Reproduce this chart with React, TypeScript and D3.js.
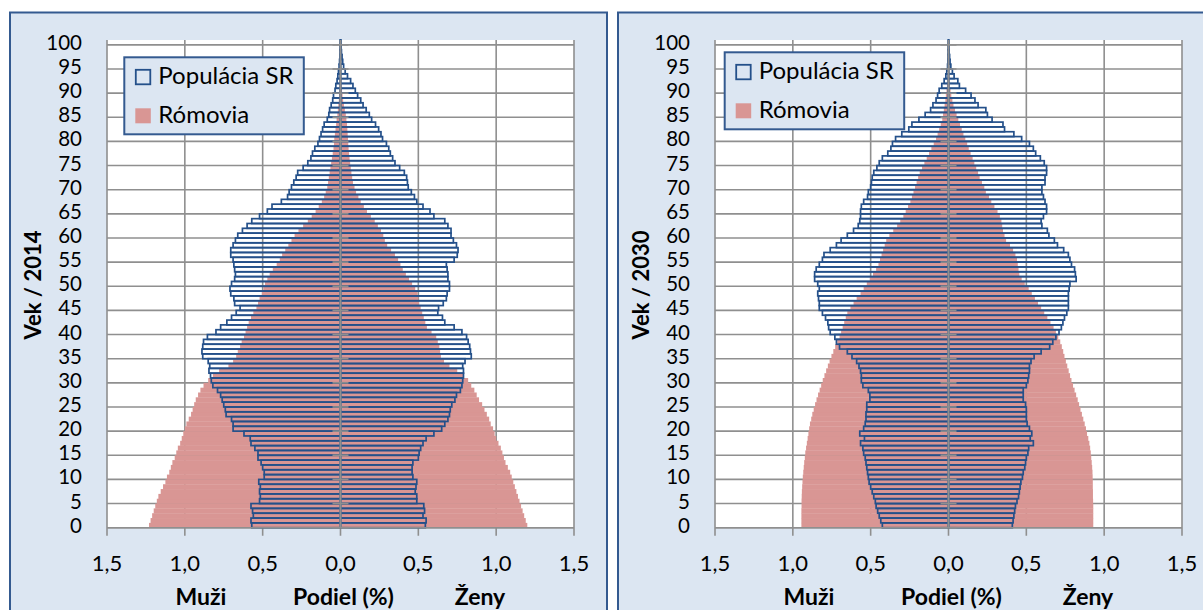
import React from "react";
import * as d3 from "d3";

const ages: number[] = Array.from({ length: 101 }, (_, i) => i);
const ageTicks = [0, 5, 10, 15, 20, 25, 30, 35, 40, 45, 50, 55, 60, 65, 70, 75, 80, 85, 90, 95, 100];
const shareTicks = [-1.5, -1, -0.5, 0, 0.5, 1, 1.5];

// 2014 — Populácia SR (share %, men / women)
const sr2014Men = [
  0.57, 0.575, 0.56, 0.565, 0.575, 0.52, 0.515, 0.52, 0.515, 0.525,
  0.49, 0.49, 0.5, 0.51, 0.53, 0.53, 0.55, 0.575, 0.58, 0.62,
  0.69, 0.69, 0.7, 0.735, 0.74, 0.75, 0.76, 0.77, 0.79, 0.82,
  0.83, 0.835, 0.845, 0.84, 0.85, 0.885, 0.89, 0.885, 0.88, 0.855,
  0.8, 0.77, 0.73, 0.7, 0.67, 0.645, 0.68, 0.685, 0.705, 0.71,
  0.7, 0.68, 0.675, 0.68, 0.685, 0.69, 0.705, 0.705, 0.69, 0.675,
  0.66, 0.63, 0.6, 0.57, 0.52, 0.47, 0.44, 0.38, 0.34, 0.33,
  0.315, 0.3, 0.285, 0.275, 0.24, 0.21, 0.19, 0.18, 0.165, 0.145,
  0.135, 0.125, 0.115, 0.105, 0.085, 0.075, 0.07, 0.06, 0.05, 0.045,
  0.035, 0.03, 0.022, 0.017, 0.013, 0.009, 0.006, 0.004, 0.003, 0.002, 0.002,
];
const sr2014Women = [
  0.545, 0.55, 0.53, 0.54, 0.535, 0.49, 0.49, 0.48, 0.485, 0.49,
  0.465, 0.46, 0.46, 0.465, 0.5, 0.505, 0.515, 0.53, 0.55, 0.6,
  0.65, 0.67, 0.69, 0.7, 0.705, 0.715, 0.735, 0.745, 0.77, 0.78,
  0.785, 0.79, 0.79, 0.785, 0.8, 0.84, 0.835, 0.83, 0.82, 0.81,
  0.78, 0.73, 0.67, 0.655, 0.625, 0.63, 0.66, 0.68, 0.685, 0.7,
  0.7, 0.69, 0.69, 0.685, 0.68, 0.73, 0.75, 0.755, 0.745, 0.725,
  0.71, 0.71, 0.69, 0.67, 0.6, 0.575, 0.53, 0.49, 0.475, 0.455,
  0.435, 0.43, 0.425, 0.41, 0.38, 0.35, 0.335, 0.32, 0.31, 0.295,
  0.27, 0.26, 0.245, 0.225, 0.2, 0.185, 0.165, 0.145, 0.13, 0.11,
  0.095, 0.08, 0.065, 0.045, 0.03, 0.02, 0.014, 0.01, 0.006, 0.004, 0.003,
];
// 2014 — Rómovia
const roma2014Men = [
  1.23, 1.22, 1.21, 1.2, 1.19, 1.18, 1.17, 1.155, 1.14, 1.125,
  1.115, 1.1, 1.09, 1.08, 1.065, 1.055, 1.045, 1.03, 1.02, 1.01,
  1.0, 0.99, 0.975, 0.96, 0.95, 0.94, 0.93, 0.915, 0.9, 0.88,
  0.85, 0.82, 0.78, 0.72, 0.69, 0.67, 0.66, 0.645, 0.635, 0.62,
  0.61, 0.6, 0.59, 0.575, 0.56, 0.54, 0.53, 0.52, 0.505, 0.495,
  0.485, 0.47, 0.455, 0.435, 0.41, 0.39, 0.375, 0.355, 0.335, 0.315,
  0.295, 0.27, 0.24, 0.21, 0.185, 0.16, 0.14, 0.12, 0.105, 0.095,
  0.085, 0.08, 0.075, 0.07, 0.065, 0.06, 0.055, 0.05, 0.045, 0.042,
  0.04, 0.036, 0.032, 0.028, 0.025, 0.02, 0.017, 0.014, 0.011, 0.009,
  0.007, 0.006, 0.005, 0.004, 0.003, 0.002, 0.002, 0.001, 0.001, 0.001, 0.001,
];
const roma2014Women = [
  1.2, 1.19, 1.18, 1.17, 1.16, 1.15, 1.14, 1.13, 1.12, 1.11,
  1.1, 1.09, 1.075, 1.06, 1.05, 1.04, 1.03, 1.015, 1.0, 0.99,
  0.98, 0.965, 0.955, 0.94, 0.925, 0.91, 0.89, 0.875, 0.86, 0.84,
  0.82, 0.79, 0.75, 0.7, 0.665, 0.645, 0.64, 0.635, 0.625, 0.615,
  0.585, 0.555, 0.545, 0.535, 0.525, 0.515, 0.505, 0.5, 0.495, 0.48,
  0.46, 0.44, 0.42, 0.4, 0.385, 0.37, 0.35, 0.325, 0.3, 0.285,
  0.275, 0.26, 0.24, 0.22, 0.195, 0.17, 0.15, 0.13, 0.115, 0.1,
  0.09, 0.08, 0.075, 0.07, 0.066, 0.062, 0.058, 0.055, 0.052, 0.05,
  0.048, 0.046, 0.044, 0.042, 0.038, 0.034, 0.028, 0.022, 0.017, 0.013,
  0.01, 0.008, 0.006, 0.004, 0.003, 0.002, 0.002, 0.001, 0.001, 0.001, 0.001,
];
// 2030 — Populácia SR
const sr2030Men = [
  0.425, 0.435, 0.445, 0.455, 0.465, 0.47, 0.48, 0.49, 0.5, 0.51,
  0.515, 0.52, 0.525, 0.53, 0.535, 0.545, 0.55, 0.565, 0.54, 0.57,
  0.545, 0.535, 0.53, 0.53, 0.525, 0.525, 0.505, 0.505, 0.515, 0.55,
  0.56, 0.56, 0.565, 0.575, 0.59, 0.62, 0.65, 0.7, 0.72, 0.73,
  0.76, 0.77, 0.775, 0.79, 0.81, 0.83, 0.83, 0.835, 0.84, 0.83,
  0.84, 0.86, 0.86, 0.85, 0.83, 0.81, 0.8, 0.76, 0.72, 0.69,
  0.65, 0.61, 0.58, 0.57, 0.565, 0.565, 0.56, 0.545, 0.52, 0.515,
  0.5, 0.495, 0.49, 0.48, 0.46, 0.445, 0.425, 0.39, 0.37, 0.36,
  0.34, 0.3, 0.255, 0.235, 0.19, 0.15, 0.115, 0.1, 0.08, 0.07,
  0.06, 0.043, 0.028, 0.017, 0.011, 0.006, 0.004, 0.003, 0.002, 0.001, 0.001,
];
const sr2030Women = [
  0.41, 0.415, 0.42, 0.425, 0.43, 0.44, 0.45, 0.455, 0.46, 0.465,
  0.475, 0.48, 0.49, 0.495, 0.5, 0.51, 0.515, 0.545, 0.525, 0.535,
  0.52, 0.505, 0.5, 0.5, 0.5, 0.495, 0.48, 0.48, 0.48, 0.5,
  0.51, 0.515, 0.52, 0.52, 0.53, 0.55, 0.595, 0.65, 0.67, 0.69,
  0.71, 0.725, 0.735, 0.745, 0.76, 0.77, 0.77, 0.77, 0.77, 0.775,
  0.78, 0.82, 0.815, 0.81, 0.79, 0.78, 0.77, 0.74, 0.7, 0.68,
  0.645, 0.635, 0.6, 0.595, 0.61, 0.63, 0.63, 0.62, 0.61, 0.6,
  0.6, 0.62, 0.62, 0.63, 0.63, 0.615, 0.59, 0.56, 0.545, 0.52,
  0.47, 0.42, 0.36, 0.35, 0.28, 0.25, 0.24, 0.19, 0.17, 0.145,
  0.11, 0.07, 0.06, 0.036, 0.025, 0.015, 0.01, 0.007, 0.004, 0.003, 0.002,
];
// 2030 — Rómovia
const roma2030Men = [
  0.945, 0.945, 0.945, 0.945, 0.944, 0.944, 0.943, 0.942, 0.94, 0.938,
  0.936, 0.933, 0.93, 0.927, 0.923, 0.92, 0.915, 0.91, 0.905, 0.9,
  0.895, 0.89, 0.882, 0.875, 0.866, 0.857, 0.848, 0.838, 0.828, 0.818,
  0.808, 0.797, 0.786, 0.775, 0.764, 0.752, 0.74, 0.728, 0.715, 0.7,
  0.69, 0.68, 0.67, 0.66, 0.65, 0.63, 0.61, 0.59, 0.565, 0.545,
  0.525, 0.505, 0.485, 0.465, 0.45, 0.44, 0.43, 0.42, 0.41, 0.4,
  0.38, 0.355, 0.33, 0.31, 0.29, 0.275, 0.26, 0.245, 0.235, 0.225,
  0.215, 0.205, 0.195, 0.185, 0.17, 0.155, 0.14, 0.125, 0.11, 0.095,
  0.08, 0.07, 0.06, 0.05, 0.04, 0.035, 0.03, 0.025, 0.02, 0.017,
  0.013, 0.01, 0.007, 0.005, 0.003, 0.002, 0.001, 0.001, 0.001, 0.001, 0.001,
];
const roma2030Women = [
  0.93, 0.93, 0.93, 0.93, 0.93, 0.929, 0.928, 0.928, 0.927, 0.927,
  0.926, 0.925, 0.923, 0.92, 0.917, 0.914, 0.91, 0.905, 0.898, 0.89,
  0.883, 0.875, 0.866, 0.857, 0.848, 0.839, 0.83, 0.82, 0.81, 0.8,
  0.79, 0.781, 0.772, 0.763, 0.754, 0.745, 0.737, 0.728, 0.718, 0.705,
  0.69, 0.675, 0.655, 0.635, 0.615, 0.595, 0.575, 0.555, 0.535, 0.515,
  0.49, 0.47, 0.455, 0.45, 0.445, 0.44, 0.43, 0.415, 0.395, 0.37,
  0.36, 0.35, 0.345, 0.34, 0.33, 0.315, 0.295, 0.275, 0.26, 0.24,
  0.23, 0.215, 0.2, 0.19, 0.178, 0.166, 0.155, 0.142, 0.13, 0.12,
  0.108, 0.096, 0.085, 0.074, 0.063, 0.052, 0.042, 0.032, 0.025, 0.018,
  0.013, 0.009, 0.006, 0.004, 0.003, 0.002, 0.001, 0.001, 0.001, 0.001, 0.001,
];

const seriesNames = ["Populácia SR", "Rómovia"];

const FONT = "Lato, 'Open Sans', sans-serif";
const PINK = "#d99694";
const BLUE = "#24508a";
const GRID = "#8f8f8f";
const PANEL_BG = "#dce6f2";
const PANEL_BORDER = "#345a90";

type PyramidProps = {
  dx: number;
  legendTop: number;
  yearLabel: string;
  srM: number[];
  srF: number[];
  roM: number[];
  roF: number[];
};

function Pyramid({ dx, legendTop, yearLabel, srM, srF, roM, roF }: PyramidProps) {
  const plotL = 107 + dx;
  const plotR = 574 + dx;
  const plotT = 40;
  const plotB = 527.7;
  const x = d3.scaleLinear().domain([-1.5, 1.5]).range([plotL, plotR]);
  const y = d3.scaleBand<number>().domain(ages).range([plotB, plotT]).padding(0);
  const bw = y.bandwidth();
  const x0 = x(0);
  const fmt = (v: number) => Math.abs(v).toFixed(1).replace(".", ",");
  const legendLeft = (dx === 0 ? 124.3 : 116.7) + dx;

  return (
    <g>
      <rect x={plotL} y={plotT} width={plotR - plotL} height={plotB - plotT} fill="#ffffff" />
      {shareTicks.map((t) => (
        <line key={"v" + t} x1={x(t)} x2={x(t)} y1={plotT} y2={plotB + 8} stroke={GRID} strokeWidth={1.6} />
      ))}
      {ageTicks.map((a) => (
        <line key={"h" + a} x1={plotL} x2={plotR} y1={(y(a) as number) + bw} y2={(y(a) as number) + bw} stroke={GRID} strokeWidth={1.6} />
      ))}
      {ages.map((a) => (
        <rect key={"rm" + a} x={x(-roM[a])} y={y(a)} width={x0 - x(-roM[a])} height={bw + 0.3} fill={PINK} />
      ))}
      {ages.map((a) => (
        <rect key={"rf" + a} x={x0} y={y(a)} width={x(roF[a]) - x0} height={bw + 0.3} fill={PINK} />
      ))}
      {ages.map((a) => (
        <rect key={"sm" + a} x={x(-srM[a])} y={y(a)} width={x0 - x(-srM[a])} height={bw} fill="none" stroke={BLUE} strokeWidth={1.7} />
      ))}
      {ages.map((a) => (
        <rect key={"sf" + a} x={x0} y={y(a)} width={x(srF[a]) - x0} height={bw} fill="none" stroke={BLUE} strokeWidth={1.7} />
      ))}
      <line x1={x0} x2={x0} y1={plotT} y2={plotB} stroke={GRID} strokeWidth={2} />
      {ageTicks.map((a) => (
        <line key={"t" + a} x1={x0 - 8} x2={x0 + 8} y1={(y(a) as number) + bw} y2={(y(a) as number) + bw} stroke={GRID} strokeWidth={1.6} />
      ))}
      <line x1={plotL} x2={plotR} y1={plotB} y2={plotB} stroke={GRID} strokeWidth={1.6} />
      {ageTicks.map((a) => (
        <text key={"l" + a} x={plotL - 25} y={(y(a) as number) + bw / 2} dy="0.36em" textAnchor="end" fontSize={20.5} fontFamily={FONT} fill="#000">
          {a}
        </text>
      ))}
      {shareTicks.map((t) => (
        <text key={"s" + t} x={x(t)} y={571} textAnchor="middle" fontSize={22} fontFamily={FONT} fill="#000">
          {fmt(t)}
        </text>
      ))}
      <text x={x0 - 139.5} y={605} textAnchor="middle" fontSize={23} fontWeight="bold" fontFamily={FONT}>Muži</text>
      <text x={x0 + 3} y={605} textAnchor="middle" fontSize={23} fontWeight="bold" fontFamily={FONT}>Podiel (%)</text>
      <text x={x0 + 139.5} y={605} textAnchor="middle" fontSize={23} fontWeight="bold" fontFamily={FONT}>Ženy</text>
      <text transform={`translate(${dx + 41},285) rotate(-90)`} textAnchor="middle" fontSize={22} fontWeight="bold" fontFamily={FONT}>
        {yearLabel}
      </text>
      <g transform={`translate(${legendLeft},${legendTop})`}>
        <rect x={0} y={0} width={179.5} height={77} fill={PANEL_BG} stroke={PANEL_BORDER} strokeWidth={2} />
        <rect x={11.5} y={12.5} width={14.5} height={14.5} fill="none" stroke={BLUE} strokeWidth={1.8} />
        <text x={34} y={26.5} fontSize={24} fontFamily={FONT}>{seriesNames[0]}</text>
        <rect x={11} y={51} width={15.5} height={15} fill={PINK} />
        <text x={34} y={65.5} fontSize={24} fontFamily={FONT}>{seriesNames[1]}</text>
      </g>
    </g>
  );
}

export default function App() {
  return (
    <svg width={1203} height={610} style={{ position: "absolute", left: 0, top: 0, background: "#fff" }}>
      <rect x={10} y={12.5} width={597} height={640} fill={PANEL_BG} stroke={PANEL_BORDER} strokeWidth={2} />
      <rect x={618} y={12.5} width={640} height={640} fill={PANEL_BG} stroke={PANEL_BORDER} strokeWidth={2} />
      <Pyramid dx={0} legendTop={57.3} yearLabel="Vek / 2014" srM={sr2014Men} srF={sr2014Women} roM={roma2014Men} roF={roma2014Women} />
      <Pyramid dx={608} legendTop={52.3} yearLabel="Vek / 2030" srM={sr2030Men} srF={sr2030Women} roM={roma2030Men} roF={roma2030Women} />
    </svg>
  );
}
